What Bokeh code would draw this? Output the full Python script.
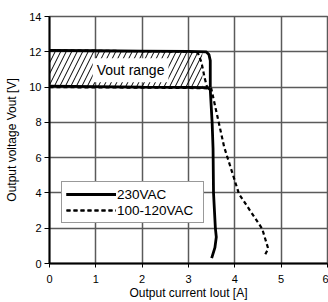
from bokeh.plotting import figure
from bokeh.models import (Range1d, FixedTicker, Legend, LegendItem, Label)
from bokeh.embed import file_html
from bokeh.resources import INLINE

# ---- data ----
x_ticks = [0, 1, 2, 3, 4, 5, 6]
y_ticks = [0, 2, 4, 6, 8, 10, 12, 14]

# Vout adjustment range band
band_x = [0.0, 3.3]
band_lo = [10.0, 10.0]
band_hi = [12.08, 12.04]

# 230VAC, Vout set to maximum
ac230_hi_i = [0.0, 1.0, 2.0, 3.0, 3.38, 3.44, 3.47, 3.47]
ac230_hi_v = [12.08, 12.06, 12.04, 12.02, 12.0, 11.85, 11.5, 10.0]
# 230VAC, Vout set to minimum
ac230_lo_i = [0.0, 1.0, 2.0, 3.0, 3.42, 3.47, 3.51, 3.53, 3.54, 3.58, 3.6, 3.57, 3.5]
ac230_lo_v = [10.05, 10.03, 10.0, 9.98, 9.97, 9.85, 8.0, 6.5, 4.0, 2.0, 1.5, 0.9, 0.3]

# 100-120VAC, Vout set to maximum
ac100_hi_i = [0.0, 1.0, 2.0, 3.0, 3.2, 3.28, 3.35, 3.4]
ac100_hi_v = [12.08, 12.06, 12.03, 12.0, 11.95, 11.4, 10.5, 10.0]
# 100-120VAC, Vout set to minimum
ac100_lo_i = [0.0, 1.0, 2.0, 3.0, 3.4, 3.49, 3.77, 4.09, 4.59, 4.72, 4.63]
ac100_lo_v = [10.0, 9.98, 9.97, 9.95, 9.93, 9.93, 6.6, 3.94, 1.97, 0.84, 0.38]

series_names = ["230VAC", "100-120VAC"]

FONT = "Liberation Sans"

p = figure(width=328, height=302,
           x_range=Range1d(0, 6), y_range=Range1d(0, 14),
           min_border_left=49, min_border_right=1,
           min_border_top=16, min_border_bottom=38,
           output_backend="svg", toolbar_location=None)

p.background_fill_color = "white"
p.border_fill_color = "white"
p.outline_line_color = "#5a5a5a"
p.outline_line_width = 1.5

# grid
p.xgrid.ticker = FixedTicker(ticks=x_ticks)
p.ygrid.ticker = FixedTicker(ticks=y_ticks)
for g in (p.xgrid, p.ygrid):
    g.grid_line_color = "#5a5a5a"
    g.grid_line_width = 1.5

# axes
p.xaxis.ticker = FixedTicker(ticks=x_ticks)
p.yaxis.ticker = FixedTicker(ticks=y_ticks)
for ax in (p.xaxis, p.yaxis):
    ax.axis_line_color = "black"
    ax.axis_line_width = 2
    ax.major_tick_line_color = "black"
    ax.major_tick_in = 0
    ax.minor_tick_in = 0
    ax.minor_tick_out = 0
    ax.major_label_text_font = FONT
    ax.major_label_text_font_size = "11px"
    ax.major_label_text_color = "black"
    ax.axis_label_text_font = FONT
    ax.axis_label_text_font_size = "12px"
    ax.axis_label_text_font_style = "normal"
    ax.axis_label_text_color = "black"

p.xaxis.axis_label = "Output current Iout [A]"
p.yaxis.axis_label = "Output voltage Vout [V]"
p.xaxis.major_tick_out = 4
p.xaxis.major_label_standoff = 7
p.xaxis.axis_label_standoff = 0
p.yaxis.major_tick_out = 5
p.yaxis.major_label_standoff = 3
p.yaxis.axis_label_standoff = 7

# hatched Vout range band
p.varea(x=band_x, y1=band_lo, y2=band_hi, fill_color="white", fill_alpha=0.0,
        hatch_pattern="/", hatch_color="black", hatch_weight=1, hatch_scale=11)

lbl = Label(x=1.75, y=10.95, text="Vout range", text_align="center",
            text_baseline="middle", text_font=FONT, text_font_size="14px",
            text_color="black", background_fill_color="white", padding=4)
p.add_layout(lbl)

# curves
d1 = p.line(ac100_hi_i, ac100_hi_v, line_color="black", line_width=2.2, line_dash="4 3")
d2 = p.line(ac100_lo_i, ac100_lo_v, line_color="black", line_width=2.2, line_dash="4 3")
s1 = p.line(ac230_hi_i, ac230_hi_v, line_color="black", line_width=2.8)
s2 = p.line(ac230_lo_i, ac230_lo_v, line_color="black", line_width=2.8)

legend = Legend(items=[LegendItem(label=series_names[0], renderers=[s1, s2]),
                       LegendItem(label=series_names[1], renderers=[d1, d2])],
                location=(12, 40))
legend.label_text_font = FONT
legend.label_text_font_size = "13.5px"
legend.label_text_color = "black"
legend.padding = 4
legend.spacing = 0
legend.margin = 0
legend.glyph_width = 50
legend.glyph_height = 16
legend.label_height = 16
legend.label_width = 82
legend.label_standoff = 1
legend.border_line_color = "#333333"
legend.border_line_width = 1
legend.background_fill_color = "white"
legend.background_fill_alpha = 1.0
p.add_layout(legend, "center")

open("out.html", "w").write(file_html(p, INLINE))
